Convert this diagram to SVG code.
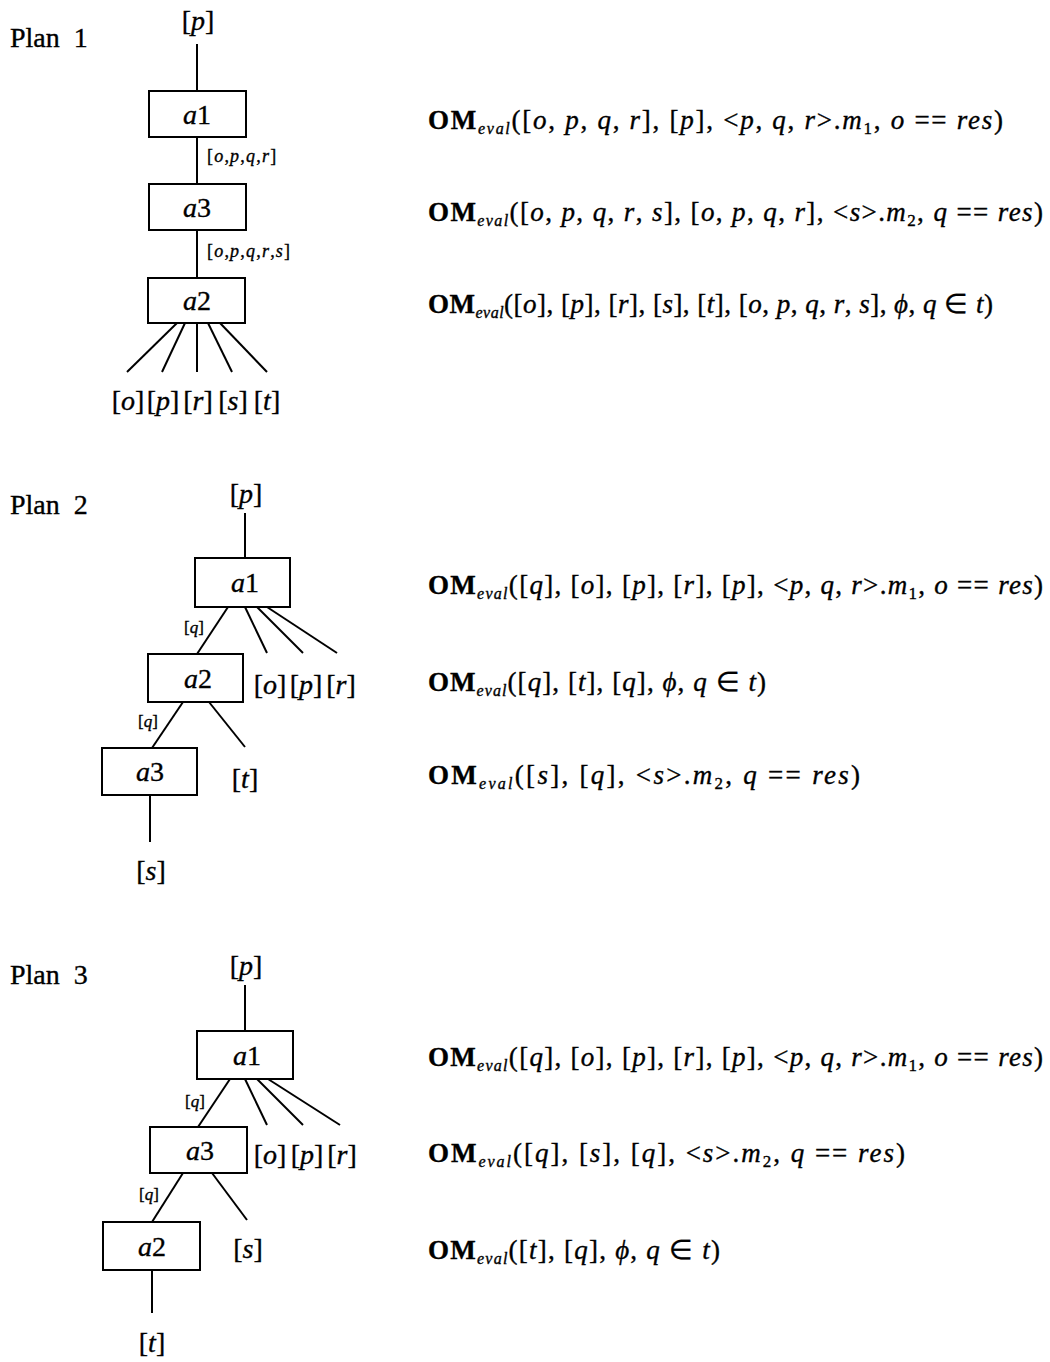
<svg xmlns="http://www.w3.org/2000/svg" width="1050" height="1362" viewBox="0 0 1050 1362">
<style>
text{font-family:"Liberation Serif","Times New Roman",serif;fill:#000;stroke:#000;stroke-width:0.35}
.plan{font-size:28px}
.lbl{font-size:28px;text-anchor:middle}
.leaf{font-size:28px;text-anchor:middle}
.el{font-size:18px;letter-spacing:1.2px}
.eq{font-size:17px}
.f{font-size:27px}
.i{font-style:italic}
.b{font-weight:bold}
.sb{font-size:16px;font-style:italic}
.box{fill:#fff;stroke:#000;stroke-width:2}
.c line{stroke:#000;stroke-width:2}
</style>
<rect width="1050" height="1362" fill="#fff"/>

<!-- Plan labels -->
<text class="plan" x="10" y="47" xml:space="preserve">Plan  1</text>
<text class="plan" x="10" y="514" xml:space="preserve">Plan  2</text>
<text class="plan" x="10" y="984" xml:space="preserve">Plan  3</text>

<!-- connectors -->
<g id="connectors" class="c">
  <!-- plan 1 -->
  <line x1="197" y1="44" x2="197" y2="91"/>
  <line x1="197" y1="137" x2="197" y2="184"/>
  <line x1="197" y1="230" x2="197" y2="278"/>
  <line x1="177" y1="323" x2="127" y2="372"/>
  <line x1="185" y1="323" x2="162" y2="372"/>
  <line x1="197" y1="323" x2="197" y2="372"/>
  <line x1="208" y1="323" x2="232" y2="372"/>
  <line x1="220" y1="323" x2="267" y2="372"/>
  <!-- plan 2 -->
  <line x1="245" y1="513" x2="245" y2="558"/>
  <line x1="228" y1="607" x2="197" y2="654"/>
  <line x1="245" y1="607" x2="267" y2="653"/>
  <line x1="257" y1="607" x2="303" y2="653"/>
  <line x1="267" y1="607" x2="337" y2="653"/>
  <line x1="183" y1="702" x2="152" y2="748"/>
  <line x1="209" y1="702" x2="245" y2="747"/>
  <line x1="150" y1="795" x2="150" y2="842"/>
  <!-- plan 3 -->
  <line x1="245" y1="985" x2="245" y2="1031"/>
  <line x1="230" y1="1079" x2="198" y2="1127"/>
  <line x1="245" y1="1079" x2="267" y2="1125"/>
  <line x1="257" y1="1079" x2="303" y2="1125"/>
  <line x1="268" y1="1079" x2="340" y2="1125"/>
  <line x1="183" y1="1173" x2="152" y2="1222"/>
  <line x1="212" y1="1173" x2="247" y2="1220"/>
  <line x1="152" y1="1270" x2="152" y2="1313"/>
</g>

<!-- Plan 1 nodes -->
<g id="p1-top"><text class="leaf" x="198" y="30">[<tspan class="i">p</tspan>]</text></g>
<g id="p1-a1"><rect class="box" x="149" y="91" width="97" height="46"/><text class="lbl" x="197" y="124"><tspan class="i">a</tspan>1</text></g>
<g id="p1-a3"><rect class="box" x="149" y="184" width="97" height="46"/><text class="lbl" x="197" y="217"><tspan class="i">a</tspan>3</text></g>
<g id="p1-a2"><rect class="box" x="148" y="278" width="97" height="45"/><text class="lbl" x="197" y="310"><tspan class="i">a</tspan>2</text></g>
<text class="el" x="207" y="162">[<tspan class="i">o</tspan>,<tspan class="i">p</tspan>,<tspan class="i">q</tspan>,<tspan class="i">r</tspan>]</text>
<text class="el" x="207" y="257">[<tspan class="i">o</tspan>,<tspan class="i">p</tspan>,<tspan class="i">q</tspan>,<tspan class="i">r</tspan>,<tspan class="i">s</tspan>]</text>
<g id="p1-leaves">
  <text class="leaf" x="128" y="410">[<tspan class="i">o</tspan>]</text>
  <text class="leaf" x="163" y="410">[<tspan class="i">p</tspan>]</text>
  <text class="leaf" x="198" y="410">[<tspan class="i">r</tspan>]</text>
  <text class="leaf" x="233" y="410">[<tspan class="i">s</tspan>]</text>
  <text class="leaf" x="267" y="410">[<tspan class="i">t</tspan>]</text>
</g>

<!-- Plan 2 nodes -->
<g id="p2-top"><text class="leaf" x="246" y="503">[<tspan class="i">p</tspan>]</text></g>
<g id="p2-a1"><rect class="box" x="195" y="558" width="95" height="49"/><text class="lbl" x="245" y="592"><tspan class="i">a</tspan>1</text></g>
<g id="p2-a2"><rect class="box" x="148" y="654" width="95" height="48"/><text class="lbl" x="198" y="688"><tspan class="i">a</tspan>2</text></g>
<g id="p2-a3"><rect class="box" x="102" y="748" width="95" height="47"/><text class="lbl" x="150" y="781"><tspan class="i">a</tspan>3</text></g>
<text class="eq" x="184" y="633">[<tspan class="i">q</tspan>]</text>
<text class="eq" x="138" y="727">[<tspan class="i">q</tspan>]</text>
<g id="p2-leaves">
  <text class="leaf" x="270" y="694">[<tspan class="i">o</tspan>]</text>
  <text class="leaf" x="306" y="694">[<tspan class="i">p</tspan>]</text>
  <text class="leaf" x="341" y="694">[<tspan class="i">r</tspan>]</text>
  <text class="leaf" x="245" y="788">[<tspan class="i">t</tspan>]</text>
  <text class="leaf" x="151" y="880">[<tspan class="i">s</tspan>]</text>
</g>

<!-- Plan 3 nodes -->
<g id="p3-top"><text class="leaf" x="246" y="975">[<tspan class="i">p</tspan>]</text></g>
<g id="p3-a1"><rect class="box" x="197" y="1031" width="96" height="48"/><text class="lbl" x="247" y="1065"><tspan class="i">a</tspan>1</text></g>
<g id="p3-a3"><rect class="box" x="150" y="1127" width="97" height="46"/><text class="lbl" x="200" y="1160"><tspan class="i">a</tspan>3</text></g>
<g id="p3-a2"><rect class="box" x="103" y="1222" width="97" height="48"/><text class="lbl" x="152" y="1256"><tspan class="i">a</tspan>2</text></g>
<text class="eq" x="185" y="1107">[<tspan class="i">q</tspan>]</text>
<text class="eq" x="139" y="1200">[<tspan class="i">q</tspan>]</text>
<g id="p3-leaves">
  <text class="leaf" x="270" y="1164">[<tspan class="i">o</tspan>]</text>
  <text class="leaf" x="307" y="1164">[<tspan class="i">p</tspan>]</text>
  <text class="leaf" x="342" y="1164">[<tspan class="i">r</tspan>]</text>
  <text class="leaf" x="248" y="1258">[<tspan class="i">s</tspan>]</text>
  <text class="leaf" x="152" y="1352">[<tspan class="i">t</tspan>]</text>
</g>

<!-- Formulas -->
<g id="formulas">
<text class="f" x="428" y="129" textLength="575" lengthAdjust="spacing"><tspan class="b">OM</tspan><tspan class="sb" dy="5">eval</tspan><tspan dy="-5">([</tspan><tspan class="i">o</tspan>, <tspan class="i">p</tspan>, <tspan class="i">q</tspan>, <tspan class="i">r</tspan>], [<tspan class="i">p</tspan>], &lt;<tspan class="i">p</tspan>, <tspan class="i">q</tspan>, <tspan class="i">r</tspan>&gt;.<tspan class="i">m</tspan><tspan font-size="17" dy="5">1</tspan><tspan dy="-5">, </tspan><tspan class="i">o</tspan> == <tspan class="i">res</tspan>)</text>
<text class="f" x="428" y="221" textLength="615" lengthAdjust="spacing"><tspan class="b">OM</tspan><tspan class="sb" dy="5">eval</tspan><tspan dy="-5">([</tspan><tspan class="i">o</tspan>, <tspan class="i">p</tspan>, <tspan class="i">q</tspan>, <tspan class="i">r</tspan>, <tspan class="i">s</tspan>], [<tspan class="i">o</tspan>, <tspan class="i">p</tspan>, <tspan class="i">q</tspan>, <tspan class="i">r</tspan>], &lt;<tspan class="i">s</tspan>&gt;.<tspan class="i">m</tspan><tspan font-size="17" dy="5">2</tspan><tspan dy="-5">, </tspan><tspan class="i">q</tspan> == <tspan class="i">res</tspan>)</text>
<text class="f" x="428" y="313" textLength="565" lengthAdjust="spacing"><tspan class="b">OM</tspan><tspan class="sb" dy="5">eval</tspan><tspan dy="-5">([</tspan><tspan class="i">o</tspan>], [<tspan class="i">p</tspan>], [<tspan class="i">r</tspan>], [<tspan class="i">s</tspan>], [<tspan class="i">t</tspan>], [<tspan class="i">o</tspan>, <tspan class="i">p</tspan>, <tspan class="i">q</tspan>, <tspan class="i">r</tspan>, <tspan class="i">s</tspan>], <tspan class="i">ϕ</tspan>, <tspan class="i">q</tspan> ∈ <tspan class="i">t</tspan>)</text>

<text class="f" x="428" y="594" textLength="615" lengthAdjust="spacing"><tspan class="b">OM</tspan><tspan class="sb" dy="5">eval</tspan><tspan dy="-5">([</tspan><tspan class="i">q</tspan>], [<tspan class="i">o</tspan>], [<tspan class="i">p</tspan>], [<tspan class="i">r</tspan>], [<tspan class="i">p</tspan>], &lt;<tspan class="i">p</tspan>, <tspan class="i">q</tspan>, <tspan class="i">r</tspan>&gt;.<tspan class="i">m</tspan><tspan font-size="17" dy="5">1</tspan><tspan dy="-5">, </tspan><tspan class="i">o</tspan> == <tspan class="i">res</tspan>)</text>
<text class="f" x="428" y="691" textLength="338" lengthAdjust="spacing"><tspan class="b">OM</tspan><tspan class="sb" dy="5">eval</tspan><tspan dy="-5">([</tspan><tspan class="i">q</tspan>], [<tspan class="i">t</tspan>], [<tspan class="i">q</tspan>], <tspan class="i">ϕ</tspan>, <tspan class="i">q</tspan> ∈ <tspan class="i">t</tspan>)</text>
<text class="f" x="428" y="784" textLength="432" lengthAdjust="spacing"><tspan class="b">OM</tspan><tspan class="sb" dy="5">eval</tspan><tspan dy="-5">([</tspan><tspan class="i">s</tspan>], [<tspan class="i">q</tspan>], &lt;<tspan class="i">s</tspan>&gt;.<tspan class="i">m</tspan><tspan font-size="17" dy="5">2</tspan><tspan dy="-5">, </tspan><tspan class="i">q</tspan> == <tspan class="i">res</tspan>)</text>

<text class="f" x="428" y="1066" textLength="615" lengthAdjust="spacing"><tspan class="b">OM</tspan><tspan class="sb" dy="5">eval</tspan><tspan dy="-5">([</tspan><tspan class="i">q</tspan>], [<tspan class="i">o</tspan>], [<tspan class="i">p</tspan>], [<tspan class="i">r</tspan>], [<tspan class="i">p</tspan>], &lt;<tspan class="i">p</tspan>, <tspan class="i">q</tspan>, <tspan class="i">r</tspan>&gt;.<tspan class="i">m</tspan><tspan font-size="17" dy="5">1</tspan><tspan dy="-5">, </tspan><tspan class="i">o</tspan> == <tspan class="i">res</tspan>)</text>
<text class="f" x="428" y="1162" textLength="477" lengthAdjust="spacing"><tspan class="b">OM</tspan><tspan class="sb" dy="5">eval</tspan><tspan dy="-5">([</tspan><tspan class="i">q</tspan>], [<tspan class="i">s</tspan>], [<tspan class="i">q</tspan>], &lt;<tspan class="i">s</tspan>&gt;.<tspan class="i">m</tspan><tspan font-size="17" dy="5">2</tspan><tspan dy="-5">, </tspan><tspan class="i">q</tspan> == <tspan class="i">res</tspan>)</text>
<text class="f" x="428" y="1259" textLength="292" lengthAdjust="spacing"><tspan class="b">OM</tspan><tspan class="sb" dy="5">eval</tspan><tspan dy="-5">([</tspan><tspan class="i">t</tspan>], [<tspan class="i">q</tspan>], <tspan class="i">ϕ</tspan>, <tspan class="i">q</tspan> ∈ <tspan class="i">t</tspan>)</text>
</g>
</svg>
